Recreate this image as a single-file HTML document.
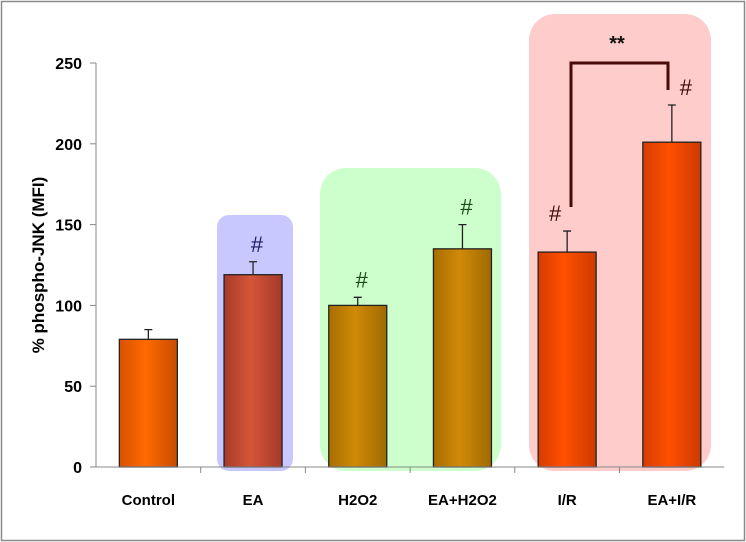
<!DOCTYPE html>
<html><head><meta charset="utf-8"><style>
html,body{margin:0;padding:0;background:#fff}
svg{display:block;font-family:"Liberation Sans",Calibri,sans-serif}
</style></head><body>
<svg id="chart" width="746" height="542" viewBox="0 0 746 542" xmlns="http://www.w3.org/2000/svg">
<defs>
<linearGradient id="gOrange" x1="0" x2="1"><stop offset="0" stop-color="#d85000"/><stop offset="0.45" stop-color="#ff6a00"/><stop offset="1" stop-color="#c84c00"/></linearGradient>
<linearGradient id="gBrown" x1="0" x2="1"><stop offset="0" stop-color="#a83a28"/><stop offset="0.45" stop-color="#d45638"/><stop offset="1" stop-color="#a63a2a"/></linearGradient>
<linearGradient id="gGold" x1="0" x2="1"><stop offset="0" stop-color="#a86e00"/><stop offset="0.45" stop-color="#d08a08"/><stop offset="1" stop-color="#a06a00"/></linearGradient>
<linearGradient id="gRed" x1="0" x2="1"><stop offset="0" stop-color="#d83c00"/><stop offset="0.45" stop-color="#ff5000"/><stop offset="1" stop-color="#cc3a00"/></linearGradient>
</defs>
<rect x="1.5" y="1.5" width="743" height="539" fill="#fff" stroke="#8a8a8a" stroke-width="1.5"/>
<rect x="217" y="215" width="76" height="256" rx="12" fill="#c8c8ff"/>
<rect x="320" y="168" width="181" height="303" rx="26" fill="#ccffcc"/>
<rect x="529" y="14" width="182" height="457" rx="26" fill="#ffcccc"/>
<g id="plot"></g>
<text transform="translate(44,265) rotate(-90)" text-anchor="middle" font-size="17" font-weight="bold" fill="#000">% phospho-JNK (MFI)</text>
<path d="M571 207 V63 H668 V90" fill="none" stroke="#4a0a0a" stroke-width="3"/>
<text x="617" y="50" text-anchor="middle" font-size="20" font-weight="bold" fill="#111">**</text>
</svg>
<script>
const categories = ["Control","EA","H2O2","EA+H2O2","I/R","EA+I/R"];
const values = [79, 119, 100, 135, 133, 201];
const errors = [6, 8, 5, 15, 13, 23];
const marks = ["", "#", "#", "#", "#", "#"];
const yTicks = [0, 50, 100, 150, 200, 250];
const fills = ["url(#gOrange)","url(#gBrown)","url(#gGold)","url(#gGold)","url(#gRed)","url(#gRed)"];
const markColors = ["#000","#1a1a60","#1a4a1a","#1a4a1a","#3a0a0a","#3a0a0a"];
const NS="http://www.w3.org/2000/svg";
const x0=96, catW=104.7, y0=467, yTop=63, yMax=250;
const y = v => y0 - (v/yMax)*(y0-yTop);
const cx = i => x0 + catW*(i+0.5);
const g=document.getElementById('plot');
function mk(tag,attrs){const e=document.createElementNS(NS,tag);for(const k in attrs)e.setAttribute(k,attrs[k]);g.appendChild(e);return e;}
categories.forEach((c,i)=>{
  const bw=58;
  const b=mk('rect',{x:cx(i)-bw/2,y:y(values[i]),width:bw,height:y0-y(values[i]),fill:fills[i],stroke:"#222","stroke-width":1.3});
  
  
  const eb=mk('path',{d:`M${cx(i)} ${y(values[i])} V${y(values[i]+errors[i])} M${cx(i)-4} ${y(values[i]+errors[i])} H${cx(i)+4}`,stroke:"#222","stroke-width":1.3,fill:"none"});
  
  
  if(marks[i]){
    const off = i===4 ? -12 : (i===5 ? 14 : 4);
    const t=mk('text',{x:cx(i)+off,y:y(values[i]+errors[i])-10,"text-anchor":"middle","font-size":22,fill:markColors[i]});
    t.textContent=marks[i];
    
    
  }
  const l=mk('text',{x:cx(i),y:505,"text-anchor":"middle","font-size":15,"font-weight":"bold",fill:"#000"});
  l.textContent=c;
  
  
  if(i>0){const tk=mk('line',{x1:x0+catW*i,x2:x0+catW*i,y1:y0,y2:y0+6,stroke:"#888"});
    
    }
});
yTicks.forEach(v=>{
  const tk=mk('line',{x1:x0-6,x2:x0,y1:y(v),y2:y(v),stroke:"#888"});
  
  
  const t=mk('text',{x:x0-14,y:y(v)+6,"text-anchor":"end","font-size":16,"font-weight":"bold",fill:"#000"});
  t.textContent=v;
  
  
});
const ya=mk('line',{x1:x0,x2:x0,y1:yTop,y2:y0,stroke:"#888"});


const xa=mk('line',{x1:x0,x2:x0+catW*6,y1:y0,y2:y0,stroke:"#888"});


</script>
</body></html>
